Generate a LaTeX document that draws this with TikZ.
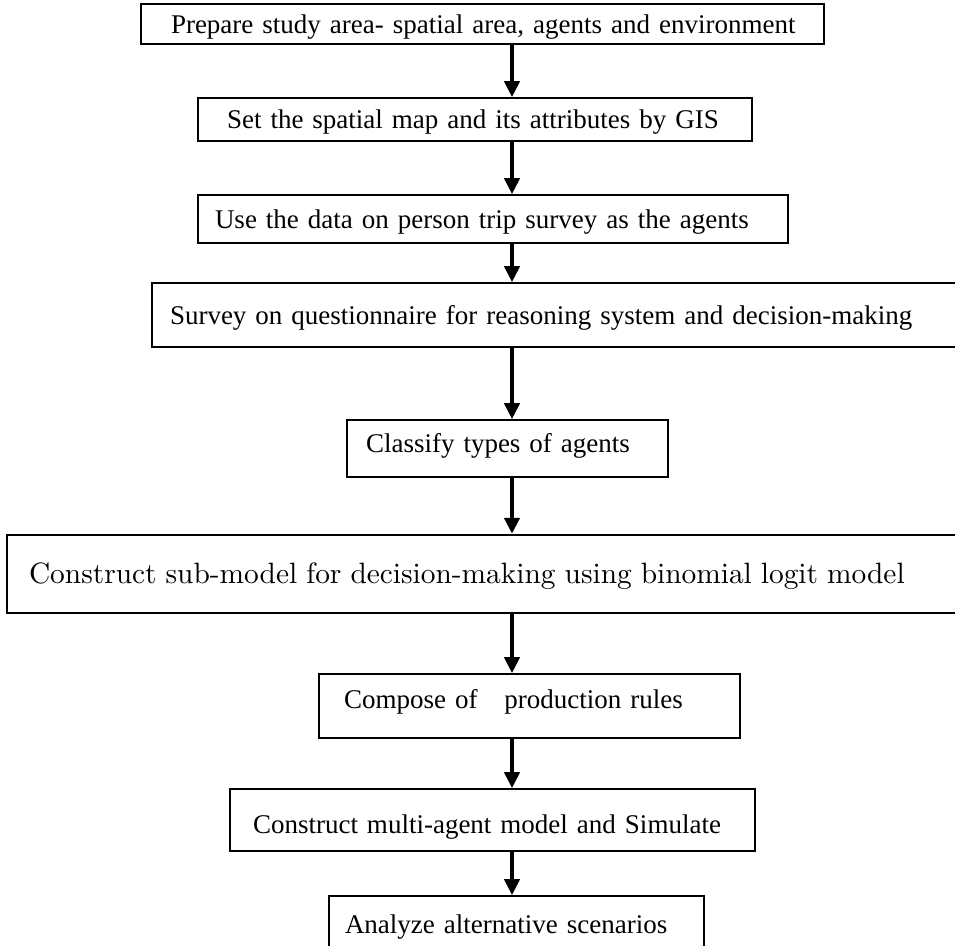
\documentclass[tikz,border=0pt]{standalone}
\usepackage{fontspec}
\setmainfont{Liberation Serif}
\newfontfamily\lmten{lmroman10-regular}[Extension=.otf]
\usetikzlibrary{arrows.meta}
\tikzset{
  x=1pt, y=-1pt,
  flowbox/.style={draw=black, line width=1.6pt, align=left, inner ysep=0pt,
    text height=19pt, text depth=1pt,
    font=\fontsize{27}{31}\selectfont},
  widebox/.style={line width=2.4pt},
  flowarrow/.style={line width=4pt, -{Triangle[length=16pt,width=15pt]}},
}
% box: name, left, right, top, bottom, padding, raise, text
\newcommand{\flowbx}[8][]{%
  \node[flowbox, #1, inner xsep=#7pt, text width={(#4-#3-2*#7)*1pt},
        minimum height={(#6-#5)*1pt}, anchor=center]
    (#2) at ({(#3+#4)/2},{(#5+#6)/2}) {\raisebox{\flowraise pt}{\mbox{#8}}};}
\newcommand{\flowraise}{0}
\begin{document}
\begin{tikzpicture}
\useasboundingbox (0,0) rectangle (955,945);
\fill[white] (0,0) rectangle (955,945);
\clip (0,0) rectangle (955,945);
\coordinate (ax) at (512,0);
\flowbx{b1}{141}{824}{4}{44}{30}{Prepare study area- spatial area, agents and environment}
\flowbx{b2}{198}{752}{98}{141}{29}{Set the spatial map and its attributes by GIS}
\flowbx{b3}{198}{788}{195}{243}{17}{Use the data on person trip survey as the agents}
\flowbx{b4}{152}{965}{283}{347}{18}{Survey on questionnaire for reasoning system and decision-making}
\renewcommand{\flowraise}{5}
\flowbx{b5}{347}{668}{420}{477}{19}{Classify types of agents}
\renewcommand{\flowraise}{0}
\flowbx[widebox]{b6}{7}{975}{535}{613}{22}{\lmten\fontsize{29.4}{33}\selectfont Construct sub-model for decision-making using binomial logit model}
\renewcommand{\flowraise}{7}
\flowbx{b7}{319}{740}{674}{738}{25}{Compose of\hspace{1em}production rules}
\renewcommand{\flowraise}{-4}
\flowbx{b8}{230}{755}{789}{851}{23}{Construct multi-agent model and Simulate}
\renewcommand{\flowraise}{0}
\flowbx{b9}{329}{704}{896}{952}{16}{Analyze alternative scenarios}
\foreach \a/\b in {b1/b2,b2/b3,b3/b4,b4/b5,b5/b6,b6/b7,b7/b8,b8/b9}
  \draw[flowarrow] (\a.south -| ax) -- (\b.north -| ax);
\end{tikzpicture}
\end{document}
